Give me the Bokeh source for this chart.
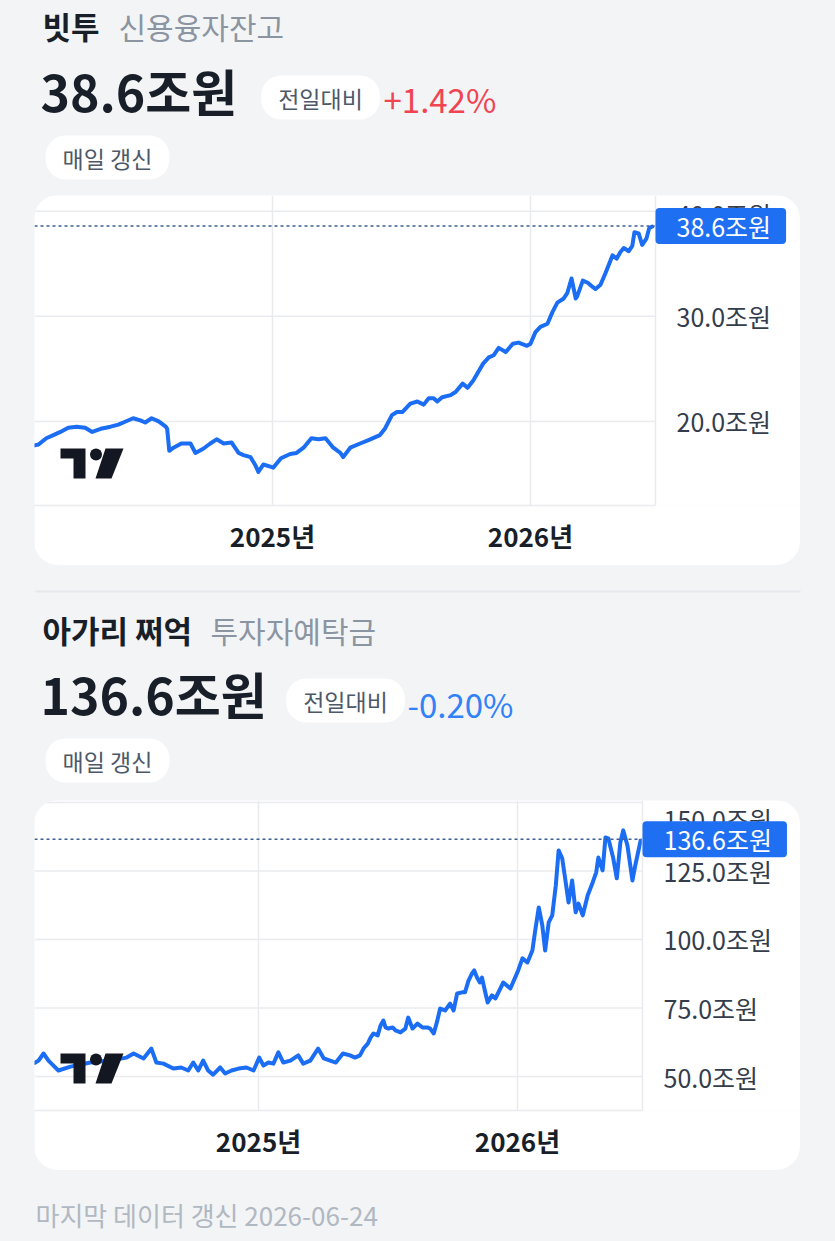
import pandas as pd
from bokeh.plotting import figure
from bokeh.layouts import column, row
from bokeh.models import (Range1d, FixedTicker, PrintfTickFormatter, DatetimeTickFormatter,
                          Label, ColumnDataSource, Spacer)
from bokeh.core.properties import value
from bokeh.embed import file_html
from bokeh.resources import INLINE

# ---------------- data ----------------
credit_dates = [
    "2024-01-29", "2024-02-05", "2024-02-16", "2024-02-26", "2024-03-07", "2024-03-18",
    "2024-03-30", "2024-04-11", "2024-04-21", "2024-05-03", "2024-05-17", "2024-05-28",
    "2024-06-04", "2024-06-18", "2024-06-28", "2024-07-05", "2024-07-14", "2024-07-24",
    "2024-08-03", "2024-08-05", "2024-08-08", "2024-08-14", "2024-08-25", "2024-09-07",
    "2024-09-14", "2024-09-25", "2024-10-05", "2024-10-14", "2024-10-24", "2024-11-04",
    "2024-11-14", "2024-11-21", "2024-12-01", "2024-12-08", "2024-12-12", "2024-12-19",
    "2024-12-29", "2025-01-02", "2025-01-13", "2025-01-26", "2025-02-04", "2025-02-14",
    "2025-02-25", "2025-03-07", "2025-03-17", "2025-03-28", "2025-04-07", "2025-04-11",
    "2025-04-21", "2025-05-05", "2025-05-16", "2025-06-02", "2025-06-09", "2025-06-19",
    "2025-06-26", "2025-07-04", "2025-07-15", "2025-07-25", "2025-08-03", "2025-08-10",
    "2025-08-17", "2025-08-22", "2025-08-29", "2025-09-10", "2025-09-17", "2025-09-27",
    "2025-10-04", "2025-10-12", "2025-10-26", "2025-11-03", "2025-11-10", "2025-11-17",
    "2025-11-27", "2025-12-07", "2025-12-15", "2025-12-27", "2026-01-01", "2026-01-08",
    "2026-01-15", "2026-01-25", "2026-02-01", "2026-02-08", "2026-02-17", "2026-02-22",
    "2026-02-28", "2026-03-06", "2026-03-08", "2026-03-16", "2026-03-23", "2026-03-30",
    "2026-04-03", "2026-04-10", "2026-04-17", "2026-04-27", "2026-05-03", "2026-05-08",
    "2026-05-13", "2026-05-20", "2026-05-25", "2026-05-28", "2026-06-03", "2026-06-08",
    "2026-06-14", "2026-06-18", "2026-06-24",
]
credit_values = [
    17.7, 17.8, 18.4, 18.7, 19.0, 19.4,
    19.5, 19.4, 19.0, 19.3, 19.5, 19.7,
    19.9, 20.3, 20.1, 19.9, 20.3, 20.0,
    19.5, 19.3, 17.2, 17.5, 17.9, 17.9,
    17.0, 17.4, 17.9, 18.3, 17.9, 18.0,
    17.0, 16.8, 16.6, 15.8, 15.2, 15.9,
    15.7, 15.6, 16.5, 16.9, 17.0, 17.5,
    18.4, 18.3, 18.4, 17.5, 17.0, 16.6,
    17.5, 17.9, 18.2, 18.7, 19.3, 20.6,
    20.9, 20.9, 21.7, 21.9, 21.6, 22.2,
    22.2, 21.9, 22.3, 22.5, 22.8, 23.6,
    23.2, 23.9, 25.5, 26.1, 26.3, 27.0,
    26.6, 27.4, 27.5, 27.2, 27.4, 28.5,
    29.0, 29.3, 30.4, 31.3, 31.7, 32.2,
    33.6, 31.7, 31.9, 33.4, 33.2, 32.8,
    32.6, 33.0, 34.1, 35.8, 35.5, 36.1,
    36.5, 36.2, 36.7, 38.0, 37.9, 36.8,
    37.4, 38.4, 38.6,
]

deposit_dates = [
    "2024-02-19", "2024-02-26", "2024-03-04", "2024-03-11", "2024-03-18", "2024-03-25",
    "2024-04-11", "2024-05-09", "2024-06-06", "2024-06-29", "2024-07-09", "2024-07-23",
    "2024-08-03", "2024-08-10", "2024-08-20", "2024-09-03", "2024-09-14", "2024-09-24",
    "2024-10-01", "2024-10-08", "2024-10-15", "2024-10-22", "2024-10-29", "2024-11-08",
    "2024-11-15", "2024-11-24", "2024-12-04", "2024-12-15", "2024-12-25", "2025-01-02",
    "2025-01-08", "2025-01-15", "2025-01-22", "2025-01-29", "2025-02-05", "2025-02-15",
    "2025-02-26", "2025-03-05", "2025-03-15", "2025-03-26", "2025-04-03", "2025-04-12",
    "2025-04-20", "2025-04-30", "2025-05-10", "2025-05-17", "2025-05-24", "2025-05-29",
    "2025-06-04", "2025-06-08", "2025-06-12", "2025-06-18", "2025-06-22", "2025-06-26",
    "2025-06-29", "2025-07-03", "2025-07-09", "2025-07-13", "2025-07-20", "2025-07-27",
    "2025-07-31", "2025-08-06", "2025-08-13", "2025-08-20", "2025-08-27", "2025-08-31",
    "2025-09-05", "2025-09-10", "2025-09-14", "2025-09-21", "2025-09-28", "2025-10-03",
    "2025-10-08", "2025-10-15", "2025-10-19", "2025-10-24", "2025-10-29", "2025-11-01",
    "2025-11-05", "2025-11-09", "2025-11-12", "2025-11-16", "2025-11-20", "2025-11-26",
    "2025-12-01", "2025-12-12", "2025-12-22", "2026-01-02", "2026-01-08", "2026-01-15",
    "2026-01-22", "2026-01-26", "2026-01-31", "2026-02-05", "2026-02-09", "2026-02-14",
    "2026-02-19", "2026-02-24", "2026-02-28", "2026-03-05", "2026-03-10", "2026-03-14",
    "2026-03-19", "2026-03-24", "2026-03-28", "2026-04-03", "2026-04-10", "2026-04-17",
    "2026-04-22", "2026-04-25", "2026-05-01", "2026-05-05", "2026-05-09", "2026-05-16",
    "2026-05-21", "2026-05-26", "2026-05-30", "2026-06-05", "2026-06-12", "2026-06-16",
    "2026-06-24",
]
deposit_values = [
    54.7, 55.8, 58.4, 55.8, 54.0, 52.2,
    53.6, 55.1, 55.8, 56.9, 58.4, 56.6,
    60.2, 55.1, 54.7, 52.9, 53.3, 52.2,
    55.1, 52.2, 55.8, 52.2, 50.7, 53.3,
    51.1, 52.2, 52.9, 53.3, 52.2, 56.9,
    54.0, 55.1, 54.7, 58.8, 55.1, 55.8,
    57.7, 54.7, 55.8, 60.2, 56.6, 55.8,
    55.1, 58.4, 57.7, 56.9, 57.7, 60.2,
    62.0, 64.2, 65.7, 65.0, 68.6, 70.4,
    67.9, 67.5, 67.9, 66.8, 66.1, 67.5,
    71.5, 67.5, 69.3, 67.9, 67.9, 67.5,
    65.7, 70.4, 74.8, 74.1, 76.6, 74.1,
    80.3, 80.7, 80.7, 85.0, 87.6, 88.7,
    86.1, 84.3, 86.1, 81.4, 77.0, 79.6,
    78.5, 84.3, 82.1, 88.7, 93.1, 91.6,
    96.0, 103.3, 111.7, 105.1, 96.0, 106.2,
    108.8, 119.7, 132.5, 129.6, 120.8, 113.5,
    121.5, 109.9, 113.1, 108.8, 116.1, 120.8,
    124.5, 129.9, 125.2, 137.2, 136.9, 129.6,
    122.3, 135.4, 139.8, 134.3, 121.5, 127.0,
    136.6,
]

year_ticks = ["2025-01-01", "2026-01-01"]
credit_yticks = [20, 30, 40]
deposit_yticks = [50, 75, 100, 125, 150]
credit_last = 38.6
deposit_last = 136.6

# ---------------- style ----------------
FONT = "Noto Sans CJK KR"
BG = "#f3f4f6"
DARK = "#191f28"
GRAY = "#8b95a1"
PILL_TXT = "#4e5968"
RED = "#f04452"
BLUE_TXT = "#3182f6"
LINE = "#1b6ef3"
GRID = "#e9ebee"
LOGO = "#131722"
DASH = "#3d5f94"
TAG = "#1f6ff2"

CARD_W, CARD_H, FRAME_H = 766, 370, 310


def ms(s):
    return pd.Timestamp(s).value / 1e6


def txt(p, x, y, s, size, color, bold=False, align="left", **kw):
    p.text(x=[x], y=[y], text=[s], text_font=value(FONT), text_font_size=value(f"{size}px"),
           text_color=color, text_font_style="bold" if bold else "normal",
           text_align=align, text_baseline="middle", **kw)


def pill(p, x, y, s):
    txt(p, x, y, s, 23, PILL_TXT, align="center",
        background_fill_color="white",
        padding=dict(left=17, right=17, top=5, bottom=5), border_radius=20)


def header_fig(h, top, bottom):
    p = figure(width=835, height=h, x_range=Range1d(0, 835), y_range=Range1d(bottom, top),
               x_axis_type=None, y_axis_type=None, toolbar_location=None,
               output_backend="svg", min_border=0, background_fill_color=BG,
               border_fill_color=BG, outline_line_color=None)
    return p


def make_chart(dates, vals, last, xr, yr, yticks, plot_w):
    x0, x1 = ms(xr[0]), ms(xr[1])
    per_px = (x1 - x0) / plot_w          # data units per pixel along x
    x_frame_end = x0 + per_px * CARD_W   # frame spans the whole card; data area ends at x1
    ytop, ybot = yr[1], yr[0]
    per_py = (ytop - ybot) / FRAME_H

    p = figure(width=CARD_W, height=CARD_H, x_axis_type="datetime", y_axis_location="right",
               x_range=Range1d(x0, x_frame_end), y_range=Range1d(ybot, ytop),
               toolbar_location=None, output_backend="svg",
               min_border_left=0, min_border_top=0, min_border_right=0,
               min_border_bottom=CARD_H - FRAME_H, background_fill_color="white",
               border_fill_color="white", outline_line_color=None,
               styles={"border-radius": "24px", "overflow": "hidden"})

    # x axis
    xt = FixedTicker(ticks=[ms(t) for t in year_ticks])
    xa = p.xaxis[0]
    xa.ticker = xt
    fmt = "%Y년"
    xa.formatter = DatetimeTickFormatter(microseconds=fmt, milliseconds=fmt, seconds=fmt,
                                         minsec=fmt, minutes=fmt, hourmin=fmt, hours=fmt,
                                         days=fmt, months=fmt, years=fmt)
    xa.bounds = (x0, x1)
    xa.major_label_text_font = FONT
    xa.major_label_text_font_size = "26px"
    xa.major_label_text_font_style = "bold"
    xa.major_label_text_color = DARK
    xa.axis_line_color = GRID
    xa.axis_line_width = 1.5
    xa.major_tick_line_color = None
    xa.minor_tick_line_color = None
    xa.major_label_standoff = 5

    # y axis pinned at the end of the data area
    ya = p.yaxis[0]
    ya.fixed_location = x1
    ya.ticker = FixedTicker(ticks=yticks)
    ya.formatter = PrintfTickFormatter(format="%.1f조원")
    ya.major_label_text_font = FONT
    ya.major_label_text_font_size = "25px"
    ya.major_label_text_color = "#333d4b"
    ya.axis_line_color = GRID
    ya.axis_line_width = 1.5
    ya.major_tick_line_color = None
    ya.minor_tick_line_color = None
    ya.major_label_standoff = 15

    p.xgrid[0].ticker = xt
    p.xgrid.grid_line_color = GRID
    p.xgrid.grid_line_width = 1.5
    p.ygrid.visible = False
    # horizontal grid lines only across the data area
    p.segment(x0=[x0] * len(yticks), x1=[x1] * len(yticks), y0=yticks, y1=yticks,
              line_color=GRID, line_width=1.5)

    src = ColumnDataSource(dict(date=pd.to_datetime(dates), v=vals))
    p.line(x="date", y="v", source=src, line_color=LINE, line_width=4, line_join="round")

    # last-value dotted line and price tag
    p.segment(x0=[x0], x1=[x1], y0=[last], y1=[last], line_color=DASH,
              line_dash="3 3", line_width=1.5)
    p.add_layout(Label(x=x1, y=last, text=f"{last:.1f}조원", text_align="left",
                       text_baseline="middle", text_font=FONT, text_font_size="25px",
                       text_color="white", background_fill_color=TAG,
                       background_fill_alpha=1.0,
                       padding=dict(left=21, right=15, top=0, bottom=0), border_radius=4))

    # TradingView watermark (pixel offsets from the frame's top-left corner)
    def X(rx):
        return x0 + per_px * rx

    def Y(ry):
        return ytop - per_py * ry

    T = [(26, 253), (51, 253), (51, 283), (39, 283), (39, 263), (26, 263)]
    S = [(71, 253), (89, 253), (77, 283), (61, 283)]
    p.patches(xs=[[X(a) for a, b in T], [X(a) for a, b in S]],
              ys=[[Y(b) for a, b in T], [Y(b) for a, b in S]],
              fill_color=LOGO, line_color=None)
    p.scatter(x=[X(61.5)], y=[Y(259)], size=12, marker="circle",
              fill_color=LOGO, line_color=None)
    return p


# ---------------- header 1 ----------------
h1 = header_fig(195, 0, 195)
txt(h1, 42, 25, "빗투", 31, DARK, bold=True)
txt(h1, 118, 25, "신용융자잔고", 30, GRAY)
txt(h1, 40, 89, "38.6조원", 50, DARK, bold=True)
pill(h1, 320, 97, "전일대비")
txt(h1, 383, 98, "+1.42%", 33, RED)
pill(h1, 107, 157, "매일 갱신")

c1 = make_chart(credit_dates, credit_values, credit_last,
                ("2024-01-30 08:00", "2026-06-26 20:00"), (12.0, 41.5),
                credit_yticks, 621)

# ---------------- header 2 ----------------
h2 = header_fig(235, 565, 800)
h2.segment(x0=[35], y0=[591], x1=[800], y1=[591], line_color="#e5e8eb", line_width=2)
txt(h2, 42, 629, "아가리 쩌억", 31, DARK, bold=True)
txt(h2, 210, 629, "투자자예탁금", 30, GRAY)
txt(h2, 40, 692, "136.6조원", 50, DARK, bold=True)
pill(h2, 345, 700, "전일대비")
txt(h2, 407, 703, "-0.20%", 33, BLUE_TXT)
pill(h2, 107, 760, "매일 갱신")

c2 = make_chart(deposit_dates, deposit_values, deposit_last,
                ("2024-02-20 07:00", "2026-06-26 05:00"), (37.6, 150.7),
                deposit_yticks, 608)

# ---------------- footer ----------------
ft = header_fig(71, 1170, 1241)
txt(ft, 35, 1214, "마지막 데이터 갱신 2026-06-24", 26, "#b0b8c1")

layout = column(
    h1,
    row(Spacer(width=34, height=370), c1, Spacer(width=35, height=370)),
    h2,
    row(Spacer(width=34, height=370), c2, Spacer(width=35, height=370)),
    ft,
    styles={"background-color": BG},
)

open("out.html", "w").write(file_html(layout, INLINE))
